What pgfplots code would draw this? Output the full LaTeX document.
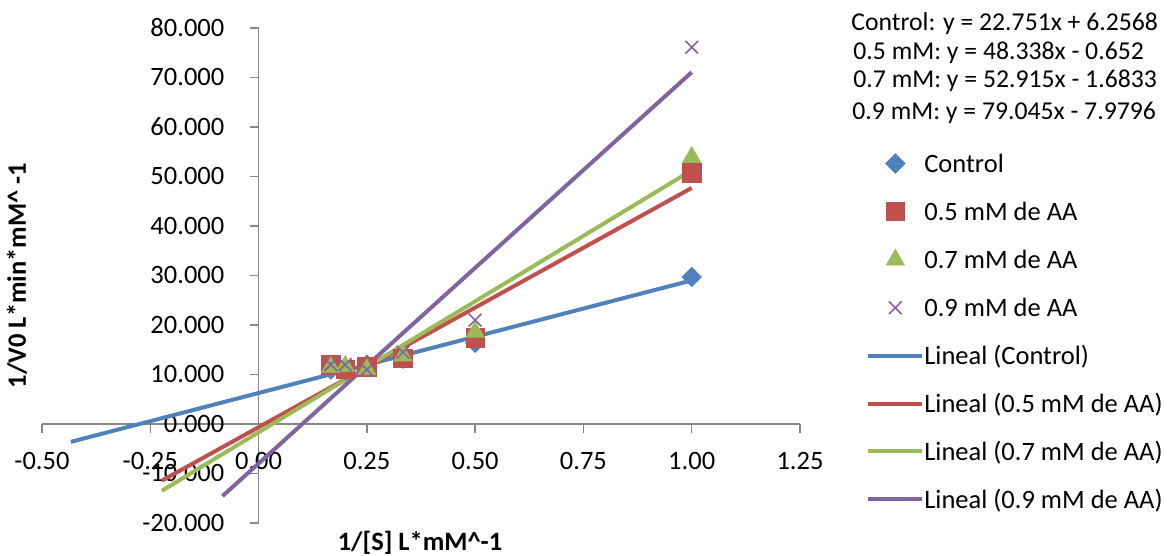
\documentclass[border=0pt]{standalone}
\usepackage{pgfplots}
\pgfplotsset{compat=1.18}
\usepackage{fontspec}
\setmainfont{Carlito}
\definecolor{cblue}{HTML}{4F81BD}
\definecolor{cred}{HTML}{C0504D}
\definecolor{cgreen}{HTML}{9BBB59}
\definecolor{cpurple}{HTML}{8064A2}
\definecolor{axisgray}{HTML}{868686}
\begin{document}
\fontsize{13.25pt}{16pt}\selectfont
\begin{tikzpicture}
\useasboundingbox (0,0) rectangle (587pt,278pt);
\begin{axis}[
  at={(21pt,16.5pt)}, anchor=south west,
  scale only axis, width=379pt, height=247.5pt,
  xmin=-0.5, xmax=1.25, ymin=-20, ymax=80,
  axis lines=middle,
  hide obscured x ticks=false, hide obscured y ticks=false,
  axis line style={draw=axisgray, line width=0.75pt, -},
  xtick={-0.5,-0.25,0,0.25,0.5,0.75,1,1.25},
  ytick={-20,-10,0,10,20,30,40,50,60,70,80},
  tick align=outside, major tick length=4.5pt,
  tick style={draw=axisgray, line width=0.75pt},
  /pgf/number format/assume math mode=true,
  x tick label style={/pgf/number format/fixed, /pgf/number format/fixed zerofill, /pgf/number format/precision=2, yshift=-5pt},
  y tick label style={/pgf/number format/fixed, /pgf/number format/fixed zerofill, /pgf/number format/precision=3, xshift=-8pt},
  every axis y label/.style={at={(axis description cs:-0.033,0.5)}, rotate=90, anchor=center, font=\bfseries},
  every axis x label/.style={at={(axis description cs:0.4987,-0.040)}, anchor=center, font=\bfseries},
  xlabel={1/[S] L*mM\textasciicircum-1},
  ylabel={1/V0 L*min*mM\textasciicircum{} -1},
  clip=false,
  legend style={draw=none, fill=none, at={(axis description cs:1.087,0.747)}, anchor=north west,
    inner sep=0pt, row sep=11.45pt, nodes={inner sep=0pt, text height=9.5pt, text depth=3pt},
    /tikz/every even column/.append style={column sep=5pt}},
  legend cell align=left,
  legend image code/.code={\draw[mark repeat=2, mark phase=2, #1] plot coordinates {(0pt,1.3pt) (13.5pt,1.3pt) (27pt,1.3pt)};},
]
\addplot[only marks, mark=square*, mark options={rotate=45, fill=cblue, draw=cblue}, mark size=3.4pt] coordinates {
 (0.1667,11.0) (0.2,10.8) (0.25,12.0) (0.3333,13.2) (0.5,16.4) (1,29.7)};
\addplot[only marks, mark=square*, mark options={fill=cred, draw=cred}, mark size=4.6pt] coordinates {
 (0.1667,11.9) (0.2,11.0) (0.25,11.5) (0.3333,13.3) (0.5,17.4) (1,50.7)};
\addplot[only marks, mark=triangle*, mark options={fill=cgreen, draw=cgreen}, mark size=5.2pt] coordinates {
 (0.1667,11.5) (0.2,11.7) (0.25,11.0) (0.3333,13.8) (0.5,18.6) (1,53.9)};
\addplot[only marks, mark=x, mark options={draw=cpurple, line width=0.8pt}, mark size=4.5pt] coordinates {
 (0.1667,12.0) (0.2,12.0) (0.25,11.0) (0.3333,14.5) (0.5,21.0) (1,76.1)};
\addplot[cblue, line width=2pt, no marks] coordinates {(-0.4333,-3.601) (1,29.008)};
\addplot[cred, line width=2pt, no marks] coordinates {(-0.2233,-11.446) (1,47.686)};
\addplot[cgreen, line width=2pt, no marks] coordinates {(-0.2233,-13.499) (1,51.232)};
\addplot[cpurple, line width=2pt, no marks] coordinates {(-0.0833,-14.567) (1,71.065)};
\legend{Control, 0.5 mM de AA, 0.7 mM de AA, 0.9 mM de AA, Lineal (Control), Lineal (0.5 mM de AA), Lineal (0.7 mM de AA), Lineal (0.9 mM de AA)}
\end{axis}
\begin{scope}[font=\fontsize{12.85pt}{15pt}\selectfont]
\node[anchor=base west, inner sep=0pt] at (425.5pt,262.75pt) {Control: y = 22.751x + 6.2568};
\node[anchor=base west, inner sep=0pt] at (426.5pt,248.25pt) {0.5 mM: y = 48.338x - 0.652};
\node[anchor=base west, inner sep=0pt] at (426.5pt,234.25pt) {0.7 mM: y = 52.915x - 1.6833};
\node[anchor=base west, inner sep=0pt] at (426pt,218.25pt) {0.9 mM: y = 79.045x - 7.9796};
\end{scope}
\end{tikzpicture}
\end{document}
